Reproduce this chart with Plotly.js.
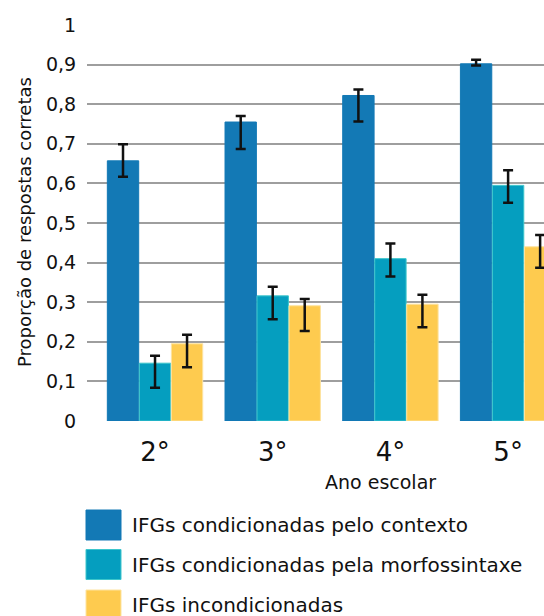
<!DOCTYPE html>
<html>
<head>
<meta charset="utf-8">
<script src="https://cdn.plot.ly/plotly-3.0.1.min.js"></script>
<style>html,body{margin:0;padding:0;overflow:hidden;background:#fff;}#chart{width:544px;height:616px;}</style>
</head>
<body>
<div id="chart"></div>
<script>
const grades = ['2°', '3°', '4°', '5°'];
const seriesNames = ['IFGs condicionadas pelo contexto', 'IFGs condicionadas pela morfossintaxe', 'IFGs incondicionadas'];
const contexto = [0.657, 0.755, 0.822, 0.902];
const contextoPlus = [0.042, 0.015, 0.015, 0.01];
const contextoMinus = [0.04, 0.068, 0.066, 0.004];
const morfo = [0.146, 0.316, 0.41, 0.595];
const morfoPlus = [0.019, 0.023, 0.038, 0.038];
const morfoMinus = [0.062, 0.059, 0.045, 0.044];
const incond = [0.195, 0.291, 0.295, 0.44];
const incondPlus = [0.023, 0.017, 0.024, 0.03];
const incondMinus = [0.059, 0.064, 0.058, 0.053];

const colors = ['#1379b5', '#059ebf', '#fecb4f'];
const lineColors = ['#1379b5', '#3cc6cc', '#fde3a0'];
const FONT = '"DejaVu Sans", sans-serif';

// pixel -> paper helpers (plot area: x 87..544, y 25..421)
const px = v => (v - 87) / 457;
const py = v => (421 - v) / 396;

function errs(p, m) {
  return {type: 'data', symmetric: false, array: p, arrayminus: m, color: '#111', thickness: 2.5, width: 5};
}
const vals = [contexto, morfo, incond];
const plus = [contextoPlus, morfoPlus, incondPlus];
const minus = [contextoMinus, morfoMinus, incondMinus];
const traces = vals.map((v, i) => ({
  type: 'bar', x: grades, y: v, name: seriesNames[i],
  marker: {color: colors[i], line: {color: lineColors[i], width: 1}},
  error_y: errs(plus[i], minus[i]), showlegend: false, hoverinfo: 'none'
}));

const shapes = [];
const annotations = [];
const legendY = [525, 564.5, 605];
seriesNames.forEach((n, i) => {
  const yc = legendY[i];
  shapes.push({type: 'rect', xref: 'paper', yref: 'paper',
    x0: px(86), x1: px(121), y0: py(yc + 15), y1: py(yc - 15),
    fillcolor: colors[i], line: {color: lineColors[i], width: 1}});
  annotations.push({xref: 'paper', yref: 'paper', x: px(130), y: py(yc),
    xanchor: 'left', yanchor: 'middle', showarrow: false, text: n,
    font: {family: FONT, size: 20, color: '#111'}});
});
annotations.push({xref: 'paper', yref: 'paper', x: px(380), y: py(482),
  xanchor: 'center', yanchor: 'middle', showarrow: false, text: 'Ano escolar',
  font: {family: FONT, size: 19, color: '#111'}});
annotations.push({xref: 'paper', yref: 'paper', x: px(24), y: py(222),
  xanchor: 'center', yanchor: 'middle', showarrow: false, textangle: -90,
  text: 'Proporção de respostas corretas',
  font: {family: FONT, size: 18, color: '#111'}});

const layout = {
  width: 544, height: 616,
  margin: {l: 87, r: 0, t: 25, b: 195},
  paper_bgcolor: '#fff', plot_bgcolor: '#fff',
  barmode: 'group', bargap: 0.184, bargroupgap: 0.02,
  separators: ',.',
  font: {family: FONT, color: '#111'},
  xaxis: {type: 'category', range: [-0.578, 3.305], showgrid: false, zeroline: false,
    showline: false, ticks: 'outside', ticklen: 8, tickcolor: 'rgba(0,0,0,0)',
    tickfont: {family: FONT, size: 26, color: '#111'}},
  yaxis: {range: [0, 1], dtick: 0.1, tick0: 0, showgrid: true, gridcolor: '#9e9e9e', gridwidth: 2,
    zeroline: false, showline: false, ticks: 'outside', ticklen: 6, tickcolor: 'rgba(0,0,0,0)',
    tickfont: {family: FONT, size: 19, color: '#111'}},
  shapes: shapes, annotations: annotations
};
Plotly.newPlot('chart', traces, layout, {displayModeBar: false, staticPlot: true});
</script>
</body>
</html>
